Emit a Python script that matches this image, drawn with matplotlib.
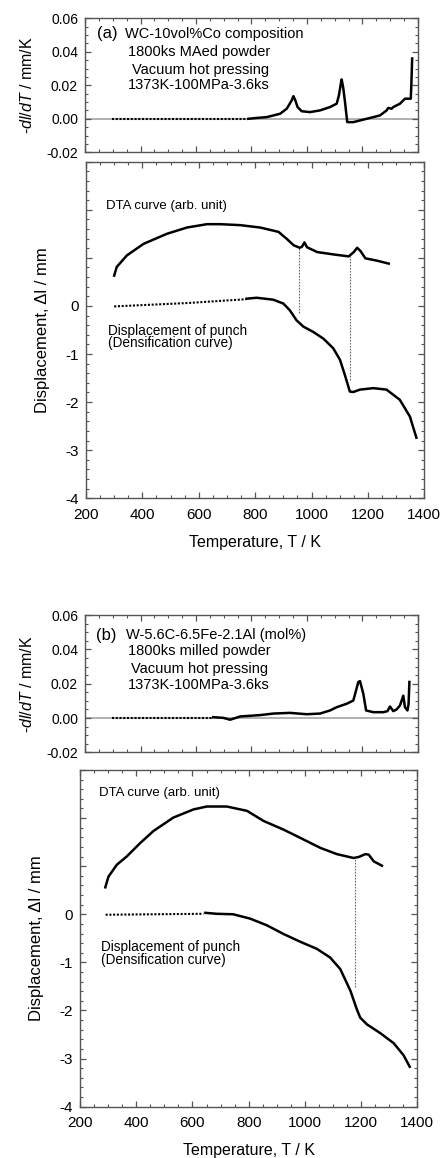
import numpy as np
import matplotlib
matplotlib.use("Agg")
import matplotlib.pyplot as plt
from matplotlib.ticker import MultipleLocator

plt.rcParams['font.family'] = ['Liberation Sans', 'DejaVu Sans']
plt.rcParams['axes.unicode_minus'] = False
plt.rcParams['mathtext.fontset'] = 'custom'
plt.rcParams['mathtext.it'] = 'Liberation Sans:italic'
plt.rcParams['mathtext.rm'] = 'Liberation Sans'

# -------------------------------------------------------------
# Data
# -------------------------------------------------------------
# (a) WC-10vol%Co : shrinkage rate -dl/dT (mm/K)
a_rate_dot_T = [296, 789]
a_rate_dot_v = [0.0, 0.0]
a_rate_T = [789, 819, 855, 903, 927, 945, 951, 958, 966, 981, 1011, 1047, 1083, 1107,
            1115, 1122, 1125, 1131, 1137, 1145, 1167, 1215, 1263, 1287, 1293, 1305,
            1311, 1335, 1353, 1374, 1376, 1379]
a_rate_v = [0.0, 0.0005, 0.001, 0.003, 0.006, 0.011, 0.0135, 0.011, 0.007, 0.0045, 0.004,
            0.005, 0.007, 0.009, 0.014, 0.021, 0.0235, 0.018, 0.010, -0.002, -0.002, 0.0,
            0.002, 0.005, 0.0065, 0.006, 0.007, 0.009, 0.012, 0.012, 0.020, 0.036]

# (a) DTA curve (arb. unit, drawn on the displacement scale)
a_dta_T = [300, 309, 345, 404, 487, 558, 629, 676, 747, 818, 883, 913, 937, 958, 966,
           975, 984, 1020, 1079, 1132, 1150, 1162, 1174, 1191, 1233, 1274]
a_dta_v = [0.63, 0.81, 1.05, 1.29, 1.50, 1.63, 1.70, 1.70, 1.68, 1.63, 1.54, 1.39, 1.26,
           1.21, 1.23, 1.32, 1.22, 1.12, 1.07, 1.03, 1.12, 1.21, 1.14, 0.99, 0.94, 0.88]

# (a) displacement of punch (mm)
a_disp_dot_T = [300, 559, 770]
a_disp_dot_v = [-0.01, 0.06, 0.14]
a_disp_T = [770, 805, 864, 900, 923, 947, 971, 1006, 1042, 1077, 1101, 1118, 1136,
            1148, 1172, 1219, 1266, 1313, 1349, 1372]
a_disp_v = [0.15, 0.17, 0.13, 0.05, -0.09, -0.30, -0.43, -0.54, -0.68, -0.88, -1.12,
            -1.43, -1.78, -1.79, -1.74, -1.71, -1.74, -1.95, -2.30, -2.74]

# (a) dotted guide lines: temperature, top value, bottom value
a_guide_T = [955, 1136]
a_guide_top = [1.21, 1.03]
a_guide_bot = [-0.14, -1.54]

# (b) W-5.6C-6.5Fe-2.1Al : shrinkage rate
b_rate_dot_T = [296, 662]
b_rate_dot_v = [0.0, 0.0]
b_rate_T = [662, 698, 723, 759, 831, 879, 939, 999, 1047, 1083, 1107, 1143, 1167,
            1180, 1185, 1191, 1203, 1213, 1239, 1275, 1290, 1299, 1311, 1323, 1335,
            1347, 1353, 1362, 1366, 1369]
b_rate_v = [0.0005, 0.0001, -0.001, 0.0009, 0.0017, 0.0026, 0.003, 0.0022, 0.0026,
            0.0044, 0.0063, 0.0083, 0.0102, 0.018, 0.021, 0.0215, 0.0141, 0.0044,
            0.0034, 0.0034, 0.004, 0.0067, 0.004, 0.005, 0.0073, 0.013, 0.0063,
            0.0044, 0.008, 0.021]

# (b) DTA curve
b_dta_T = [290, 301, 331, 366, 414, 461, 532, 604, 651, 722, 794, 853, 924, 983, 1055,
           1114, 1173, 1191, 1215, 1227, 1245, 1274]
b_dta_v = [0.56, 0.78, 1.03, 1.20, 1.48, 1.73, 2.01, 2.18, 2.24, 2.24, 2.15, 1.94, 1.76,
           1.59, 1.38, 1.25, 1.17, 1.19, 1.25, 1.24, 1.10, 1.01]

# (b) displacement of punch
b_disp_dot_T = [291, 639]
b_disp_dot_v = [-0.01, 0.01]
b_disp_T = [646, 686, 745, 805, 865, 924, 983, 1043, 1090, 1126, 1162, 1185, 1197,
            1221, 1268, 1316, 1351, 1373]
b_disp_v = [0.03, 0.01, 0.0, -0.09, -0.23, -0.41, -0.57, -0.72, -0.90, -1.14, -1.59,
            -1.98, -2.15, -2.29, -2.47, -2.68, -2.93, -3.17]

b_guide_T = [1179]
b_guide_top = [1.17]
b_guide_bot = [-1.52]

a_notes = ["WC-10vol%Co composition", "1800ks MAed powder",
           "Vacuum hot pressing", "1373K-100MPa-3.6ks"]
b_notes = ["W-5.6C-6.5Fe-2.1Al (mol%)", "1800ks milled powder",
           "Vacuum hot pressing", "1373K-100MPa-3.6ks"]

rate_ticks = [-0.02, 0.00, 0.02, 0.04, 0.06]
disp_ticks = [-4, -3, -2, -1, 0, 1, 2, 3]
temp_ticks = [200, 400, 600, 800, 1000, 1200, 1400]

SPINE = '#555555'


def style_axes(ax):
    for s in ax.spines.values():
        s.set_color(SPINE)
        s.set_linewidth(1.0)
    ax.tick_params(which='both', direction='in', top=True, right=True, color=SPINE)
    ax.tick_params(which='major', length=4.5, width=0.9)
    ax.tick_params(which='minor', length=2.2, width=0.8)
    ax.tick_params(axis='y', which='major', pad=5)
    ax.tick_params(axis='x', which='major', pad=7)
    ax.set_xlim(200, 1400)
    ax.xaxis.set_major_locator(MultipleLocator(200))
    ax.xaxis.set_minor_locator(MultipleLocator(50))


def draw_rate(ax, dot_T, dot_v, T, v, label, notes, note_pos):
    style_axes(ax)
    ax.axhline(0, color='#b0b0b0', lw=1.4, zorder=1)
    ax.plot(dot_T, dot_v, color='k', lw=1.5, ls=(0, (1, 0.8)), zorder=3)
    ax.plot(T, v, color='k', lw=1.8, zorder=3)
    ax.set_ylim(-0.02, 0.06)
    ax.set_yticks(rate_ticks)
    ax.set_yticklabels(["%.2f" % t for t in rate_ticks], fontsize=10)
    ax.yaxis.set_minor_locator(MultipleLocator(0.005))
    ax.set_xticklabels([])
    ax.set_ylabel(r'-$dl/dT$ / mm/K', fontsize=11.5, labelpad=8)
    ax.text(note_pos[0][0], note_pos[0][1], label, transform=ax.transAxes,
            fontsize=12, va='center', ha='left')
    for txt, (x, y) in zip(notes, note_pos[1:]):
        ax.text(x, y, txt, transform=ax.transAxes, fontsize=10.5, va='center', ha='left')


def draw_disp(ax, dta_T, dta_v, dot_T, dot_v, T, v, gT, gtop, gbot, txt_pos):
    style_axes(ax)
    ax.plot(dta_T, dta_v, color='k', lw=1.8, zorder=3)
    ax.plot(dot_T, dot_v, color='k', lw=1.5, ls=(0, (1, 0.8)), zorder=3)
    ax.plot(T, v, color='k', lw=1.8, zorder=3)
    ax.vlines(gT, gbot, gtop, colors='#666666', lw=0.8, ls=(0, (1.5, 1.2)), zorder=2)
    ax.set_ylim(-4, 3)
    ax.set_yticks(disp_ticks)
    ax.set_yticklabels([str(t) if t <= 0 else '' for t in disp_ticks], fontsize=11)
    ax.yaxis.set_minor_locator(MultipleLocator(0.2))
    ax.set_xticks(temp_ticks)
    ax.set_xticklabels([str(t) for t in temp_ticks], fontsize=11)
    ax.set_xlabel('Temperature, T / K', fontsize=11.5, labelpad=9)
    ax.set_ylabel('Displacement, \u0394l / mm', fontsize=12, labelpad=11)
    ax.text(txt_pos[0][0], txt_pos[0][1], 'DTA curve (arb. unit)', fontsize=9.5,
            va='center', ha='left')
    ax.text(txt_pos[1][0], txt_pos[1][1], 'Displacement of punch', fontsize=9.8,
            va='center', ha='left')
    ax.text(txt_pos[2][0], txt_pos[2][1], '(Densification curve)', fontsize=9.8,
            va='center', ha='left')


fig = plt.figure(figsize=(4.46, 11.58), dpi=100)

ax_a1 = fig.add_axes([0.1906, 0.8685, 0.7466, 0.1157])
ax_a2 = fig.add_axes([0.1928, 0.5697, 0.7585, 0.2907])
ax_b1 = fig.add_axes([0.1906, 0.3503, 0.7466, 0.1186])
ax_b2 = fig.add_axes([0.1794, 0.0443, 0.7563, 0.2908])

draw_rate(ax_a1, a_rate_dot_T, a_rate_dot_v, a_rate_T, a_rate_v, '(a)', a_notes,
          [(0.035, 0.885), (0.12, 0.885), (0.129, 0.75), (0.141, 0.614), (0.129, 0.502)])
draw_disp(ax_a2, a_dta_T, a_dta_v, a_disp_dot_T, a_disp_dot_v, a_disp_T, a_disp_v,
          a_guide_T, a_guide_top, a_guide_bot,
          [(271, 2.08), (279, -0.52), (279, -0.78)])

draw_rate(ax_b1, b_rate_dot_T, b_rate_dot_v, b_rate_T, b_rate_v, '(b)', b_notes,
          [(0.033, 0.854), (0.123, 0.854), (0.13, 0.737), (0.138, 0.604), (0.13, 0.489)])
draw_disp(ax_b2, b_dta_T, b_dta_v, b_disp_dot_T, b_disp_dot_v, b_disp_T, b_disp_v,
          b_guide_T, b_guide_top, b_guide_bot,
          [(269, 2.53), (275, -0.69), (275, -0.95)])

fig.savefig('out.png', dpi=100)
